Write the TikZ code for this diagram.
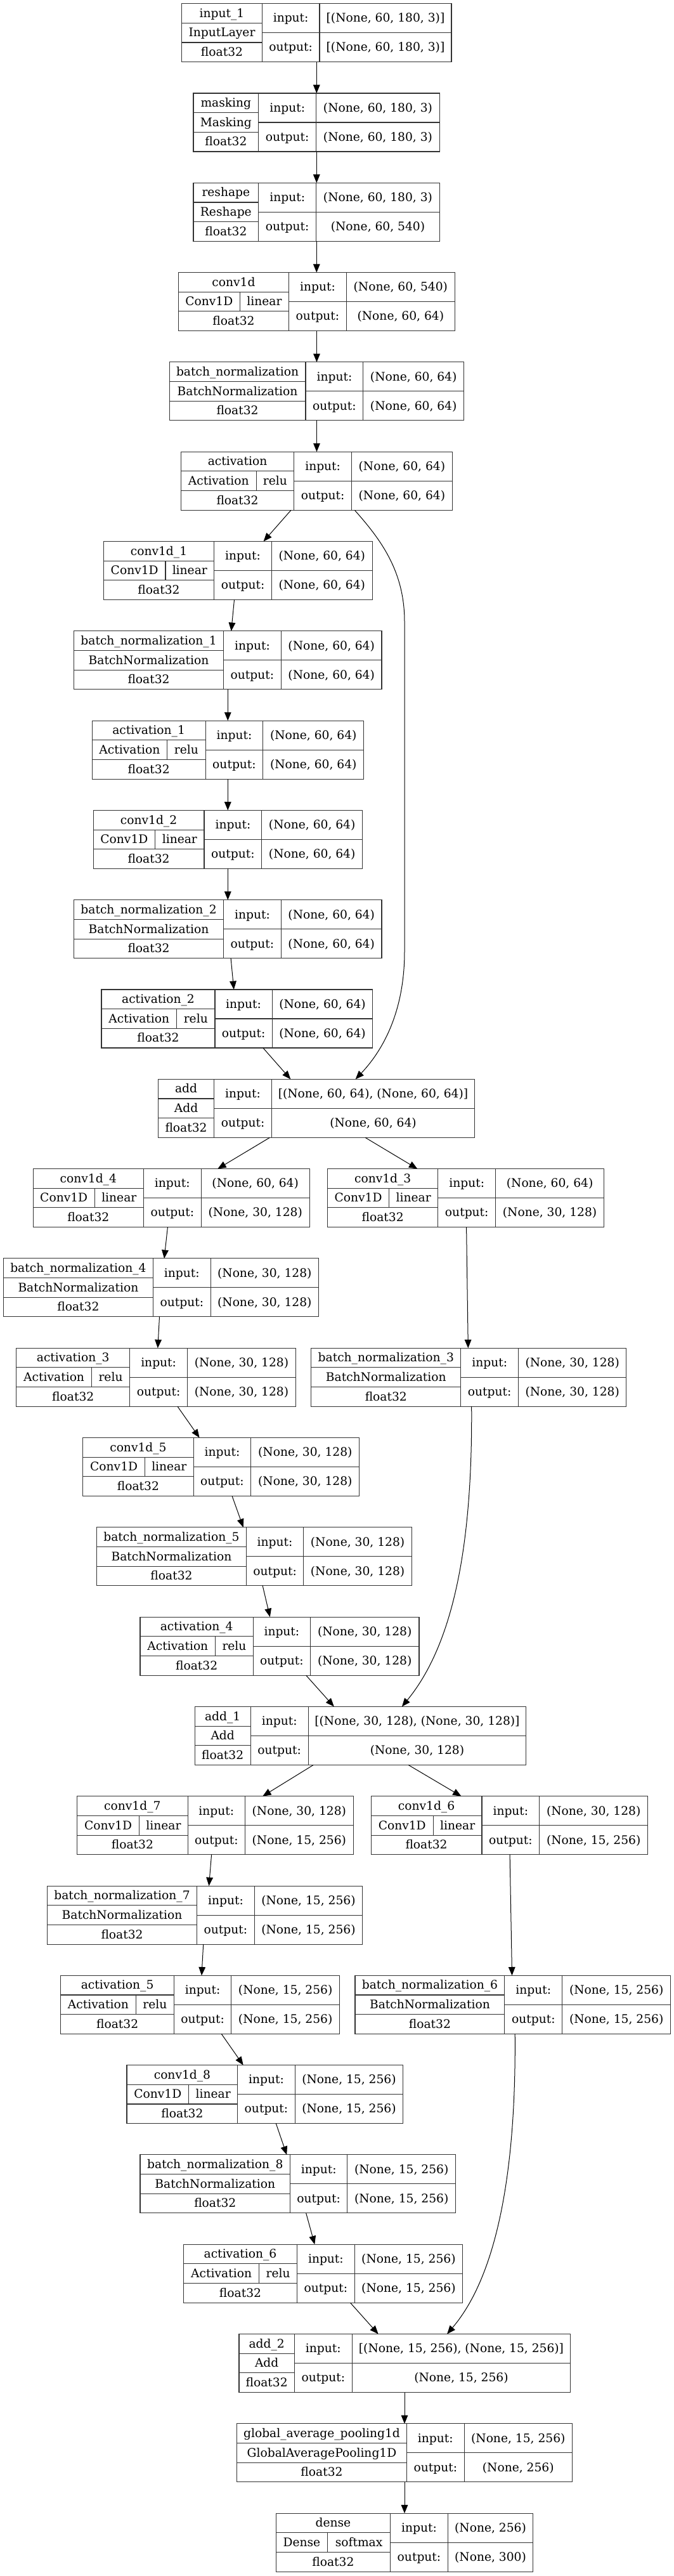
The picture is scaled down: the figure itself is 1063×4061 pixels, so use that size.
\documentclass[tikz,border=0pt]{standalone}
\usepackage{fontspec}
\setmainfont{DejaVu Serif}
\usepackage{tikz}
\usetikzlibrary{arrows.meta}
\tikzstyle{lbox}=[draw=black!80,line width=0.8pt,inner sep=0pt,outer sep=0pt,anchor=north west]
\tikzstyle{lline}=[draw=black!80,line width=0.8pt]
\tikzstyle{ltext}=[inner sep=0pt,text height=10.2pt,text depth=0.75pt,font=\fontsize{14pt}{16pt}\selectfont]
\tikzstyle{edge} = [draw,line width=0.75pt,-{Triangle[length=10pt,width=8pt]}]

% \layer{id}{row}{left}{col1}{col2}{right}{name} then {split}{class}{act}{in}{out}
\newcommand{\layer}[7]{%
  \def\lid{#1}%
  \pgfmathsetmacro\yt{5.7+141.3*#2}%
  \pgfmathsetmacro\ya{\yt+92/3}%
  \pgfmathsetmacro\ym{\yt+46}%
  \pgfmathsetmacro\yc{\yt+2*92/3}%
  \pgfmathsetmacro\yb{\yt+92}%
  \def\xa{#3}\def\xb{#4}\def\xc{#5}\def\xd{#6}\def\lname{#7}%
  \layerrest}
\newcommand{\layerrest}[5]{%
  \pgfmathsetmacro\lw{(\xd-\xa)*0.75}%
  \node[lbox,minimum width=\lw pt,minimum height=69pt] (\lid) at (\xa,\yt) {};
  \draw[lline] (\xb,\yt) -- (\xb,\yb) (\xc,\yt) -- (\xc,\yb)
    (\xa,\ya) -- (\xb,\ya) (\xa,\yc) -- (\xb,\yc) (\xb,\ym) -- (\xd,\ym);
  \node[ltext] at ({(\xa+\xb)/2},{(\yt+\ya)/2}) {\lname};
  \if\relax\detokenize{#1}\relax
    \node[ltext] at ({(\xa+\xb)/2},\ym) {#2};
  \else
    \draw[lline] (#1,\ya) -- (#1,\yc);
    \node[ltext] at ({(\xa+#1)/2},\ym) {#2};
    \node[ltext] at ({(#1+\xb)/2},\ym) {#3};
  \fi
  \node[ltext] at ({(\xa+\xb)/2},{(\yc+\yb)/2}) {float32};
  \node[ltext] at ({(\xb+\xc)/2},{(\yt+\ym)/2}) {input:};
  \node[ltext] at ({(\xb+\xc)/2},{(\ym+\yb)/2}) {output:};
  \node[ltext] at ({(\xc+\xd)/2},{(\yt+\ym)/2}) {#4};
  \node[ltext] at ({(\xc+\xd)/2},{(\ym+\yb)/2}) {#5};
}

\begin{document}
\begin{tikzpicture}[x=0.75pt,y=-0.75pt]
      \useasboundingbox (0,0) rectangle (1063,4061);
      % stem
      \layer{input}{0}{286.7}{413.3}{504}{712}{input\_1}{}{InputLayer}{}{[(None, 60, 180, 3)]}{[(None, 60, 180, 3)]}
      \layer{mask}{1}{305}{407.7}{498.7}{693.3}{masking}{}{Masking}{}{(None, 60, 180, 3)}{(None, 60, 180, 3)}
      \layer{reshape}{2}{305}{407.7}{498.7}{693.3}{reshape}{}{Reshape}{}{(None, 60, 180, 3)}{(None, 60, 540)}
      \layer{conv}{3}{281.4}{455.6}{546.4}{717.3}{conv1d}{378.3}{Conv1D}{linear}{(None, 60, 540)}{(None, 60, 64)}
      \layer{bn}{4}{267.1}{482}{572.9}{731.5}{batch\_normalization}{}{BatchNormalization}{}{(None, 60, 64)}{(None, 60, 64)}
      \layer{act}{5}{285.4}{463.7}{554.6}{713.2}{activation}{404.1}{Activation}{relu}{(None, 60, 64)}{(None, 60, 64)}
      % block 1
      \layer{conva}{6}{163.4}{337.6}{428.5}{587.1}{conv1d\_1}{261}{Conv1D}{linear}{(None, 60, 64)}{(None, 60, 64)}
      \layer{bna}{7}{116.6}{352.5}{443.4}{602}{batch\_normalization\_1}{}{BatchNormalization}{}{(None, 60, 64)}{(None, 60, 64)}
      \layer{acta}{8}{145.1}{324.1}{414.9}{573.6}{activation\_1}{263.7}{Activation}{relu}{(None, 60, 64)}{(None, 60, 64)}
      \layer{convb}{9}{147.1}{322}{412.9}{571.5}{conv1d\_2}{244.7}{Conv1D}{linear}{(None, 60, 64)}{(None, 60, 64)}
      \layer{bnb}{10}{116.6}{352.5}{443.4}{602}{batch\_normalization\_2}{}{BatchNormalization}{}{(None, 60, 64)}{(None, 60, 64)}
      \layer{actb}{11}{160}{339}{429.2}{587.8}{activation\_2}{278.6}{Activation}{relu}{(None, 60, 64)}{(None, 60, 64)}
      \layer{add}{12}{249.5}{337.6}{428.5}{748.5}{add}{}{Add}{}{[(None, 60, 64), (None, 60, 64)]}{(None, 60, 64)}
      % block 2
      \layer{convd}{13}{52.2}{226.4}{317.3}{488.1}{conv1d\_4}{149.2}{Conv1D}{linear}{(None, 60, 64)}{(None, 30, 128)}
      \layer{convc}{13}{516.6}{690.8}{781.7}{952.5}{conv1d\_3}{613.6}{Conv1D}{linear}{(None, 60, 64)}{(None, 30, 128)}
      \layer{bnd}{14}{5.4}{241.4}{332.2}{502.4}{batch\_normalization\_4}{}{BatchNormalization}{}{(None, 30, 128)}{(None, 30, 128)}
      \layer{actc}{15}{25.8}{204.7}{295.6}{466.4}{activation\_3}{144.4}{Activation}{relu}{(None, 30, 128)}{(None, 30, 128)}
      \layer{bnc}{15}{490.8}{726.8}{817.6}{987.8}{batch\_normalization\_3}{}{BatchNormalization}{}{(None, 30, 128)}{(None, 30, 128)}
      \layer{conve}{16}{130.8}{305.1}{395.9}{566.8}{conv1d\_5}{228.5}{Conv1D}{linear}{(None, 30, 128)}{(None, 30, 128)}
      \layer{bne}{17}{152.5}{388.5}{478.6}{649.5}{batch\_normalization\_5}{}{BatchNormalization}{}{(None, 30, 128)}{(None, 30, 128)}
      \layer{actd}{18}{221}{399.3}{489.5}{661}{activation\_4}{339.7}{Activation}{relu}{(None, 30, 128)}{(None, 30, 128)}
      \layer{adda}{19}{307.1}{395.3}{486.1}{829.8}{add\_1}{}{Add}{}{[(None, 30, 128), (None, 30, 128)]}{(None, 30, 128)}
      % block 3
      \layer{convg}{20}{121.4}{296.3}{386.4}{557.3}{conv1d\_7}{219.7}{Conv1D}{linear}{(None, 30, 128)}{(None, 15, 256)}
      \layer{convf}{20}{585.1}{760}{850.8}{1021.7}{conv1d\_6}{683.4}{Conv1D}{linear}{(None, 30, 128)}{(None, 15, 256)}
      \layer{bng}{21}{74.6}{310.5}{401.4}{571.5}{batch\_normalization\_7}{}{BatchNormalization}{}{(None, 15, 256)}{(None, 15, 256)}
      \layer{acte}{22}{95.6}{274.6}{364.7}{535.6}{activation\_5}{214.2}{Activation}{relu}{(None, 15, 256)}{(None, 15, 256)}
      \layer{bnf}{22}{560}{795.9}{886.8}{1057.6}{batch\_normalization\_6}{}{BatchNormalization}{}{(None, 15, 256)}{(None, 15, 256)}
      \layer{convh}{23}{200}{374.9}{465.1}{635.9}{conv1d\_8}{297.6}{Conv1D}{linear}{(None, 15, 256)}{(None, 15, 256)}
      \layer{bnh}{24}{221}{457.6}{547.8}{718.6}{batch\_normalization\_8}{}{BatchNormalization}{}{(None, 15, 256)}{(None, 15, 256)}
      \layer{actf}{25}{289.5}{468.5}{559.3}{729.5}{activation\_6}{408.8}{Activation}{relu}{(None, 15, 256)}{(None, 15, 256)}
      \layer{addb}{26}{377}{464.4}{555.3}{899.7}{add\_2}{}{Add}{}{[(None, 15, 256), (None, 15, 256)]}{(None, 15, 256)}
      % head
      \layer{gap}{27}{373.6}{641.4}{732.2}{902.4}{global\_average\_pooling1d}{}{GlobalAveragePooling1D}{}{(None, 15, 256)}{(None, 256)}
      \layer{dense}{28}{435.3}{615.6}{706.4}{840.7}{dense}{516.6}{Dense}{softmax}{(None, 256)}{(None, 300)}
      % connectors
      \draw[edge] (input.south -| 499.3,0) -- (mask.north -| 499.3,0);
      \draw[edge] (mask.south -| 499.3,0) -- (reshape.north -| 499.3,0);
      \draw[edge] (reshape.south -| 499.3,0) -- (conv.north -| 499.3,0);
      \draw[edge] (conv.south -| 499.5,0) -- (bn.north -| 499.5,0);
      \draw[edge] (bn.south -| 499.5,0) -- (act.north -| 499.5,0);
      \draw[edge] (act.south -| 459,0) -- (conva.north -| 415.6,0);
      \draw[edge] (act.south -| 559.3,0) .. controls (600,850) and (638,900) .. (638,980)
        -- (638,1500) .. controls (638,1600) and (600,1660) .. (add.north -| 560.7,0);
      \draw[edge] (conva.south -| 369.5,0) -- (bna.north -| 364.7,0);
      \draw[edge] (bna.south -| 359.3,0) -- (acta.north -| 359.3,0);
      \draw[edge] (acta.south -| 359.3,0) -- (convb.north -| 359.3,0);
      \draw[edge] (convb.south -| 359.3,0) -- (bnb.north -| 359.3,0);
      \draw[edge] (bnb.south -| 364.1,0) -- (actb.north -| 368.8,0);
      \draw[edge] (actb.south -| 414.9,0) -- (add.north -| 458.3,0);
      \draw[edge] (add.south -| 425.5,0) -- (convd.north -| 343.3,0);
      \draw[edge] (add.south -| 576,0) -- (convc.north -| 658.3,0);
      \draw[edge] (convd.south -| 264.4,0) -- (bnd.north -| 259,0);
      \draw[edge] (bnd.south -| 251.5,0) -- (actc.north -| 248.8,0);
      \draw[edge] (convc.south -| 735.6,0) -- (bnc.north -| 738.3,0);
      \draw[edge] (actc.south -| 280,0) -- (conve.north -| 314.6,0);
      \draw[edge] (conve.south -| 366.1,0) -- (bne.north -| 383.7,0);
      \draw[edge] (bne.south -| 414.2,0) -- (actd.north -| 425.8,0);
      \draw[edge] (actd.south -| 482.7,0) -- (adda.north -| 526.8,0);
      \draw[edge] (bnc.south -| 743.7,0) .. controls (745,2400) and (725,2580) .. (adda.north -| 633.9,0);
      \draw[edge] (adda.south -| 494.2,0) -- (convg.north -| 414.2,0);
      \draw[edge] (adda.south -| 644.1,0) -- (convf.north -| 727.5,0);
      \draw[edge] (convg.south -| 333.6,0) -- (bng.north -| 329.5,0);
      \draw[edge] (convf.south -| 804.1,0) -- (bnf.north -| 807.5,0);
      \draw[edge] (bng.south -| 320.7,0) -- (acte.north -| 318,0);
      \draw[edge] (acte.south -| 349.2,0) -- (convh.north -| 383.7,0);
      \draw[edge] (convh.south -| 435.3,0) -- (bnh.north -| 452.2,0);
      \draw[edge] (bnh.south -| 482.7,0) -- (actf.north -| 496.3,0);
      \draw[edge] (actf.south -| 552.5,0) -- (addb.north -| 596.6,0);
      \draw[edge] (bnf.south -| 812.2,0) .. controls (814,3400) and (790,3580) .. (addb.north -| 705.1,0);
      \draw[edge] (addb.south -| 638,0) -- (gap.north -| 638,0);
      \draw[edge] (gap.south -| 638,0) -- (dense.north -| 638,0);
\end{tikzpicture}
\end{document}
